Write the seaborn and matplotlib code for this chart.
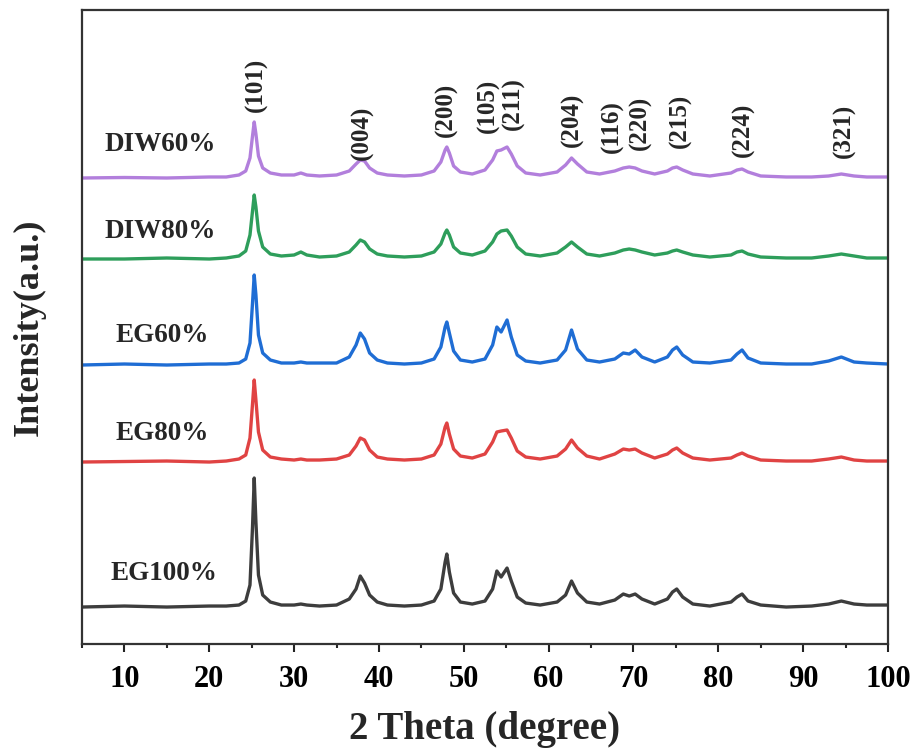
import pandas as pd
import matplotlib.pyplot as plt
import seaborn as sns
from matplotlib.ticker import MultipleLocator

# 2 theta sample points (degree)
theta = [5, 10, 15, 20, 22, 23.5, 24.3, 24.8, 25.1, 25.3, 25.5, 25.8, 26.3, 27.2, 28.5,
         30, 30.8, 31.5, 33, 35, 36.5, 37.3, 37.8, 38.3, 38.9, 39.8, 41, 43, 45, 46.5,
         47.3, 47.8, 48.0, 48.3, 48.8, 49.6, 51, 52.5, 53.4, 53.9, 54.4, 55.1, 55.6, 56.3,
         57.3, 59, 61, 62.0, 62.7, 63.4, 64.5, 66, 67.8, 68.8, 69.5, 70.2, 71, 72.5, 74,
         74.6, 75.1, 75.8, 77, 79, 81.5, 82.2, 82.8, 83.5, 85, 88, 91, 93, 94.5, 96, 97.5, 100]

# intensity above each pattern's own baseline (a.u.)
diw60 = [0, 0.5, 0, 1, 1, 3, 7, 20, 42, 56, 44, 22, 10, 5, 3,
         3, 5, 3, 2, 3, 7, 14, 18, 17, 10, 5, 3, 2, 3, 7,
         16, 28, 31, 25, 12, 6, 4, 8, 18, 27, 28, 31, 24, 12,
         5, 3, 6, 13, 20, 14, 6, 4, 7, 10, 11, 10, 7, 4, 7,
         10, 11, 8, 4, 2, 5, 8, 9, 6, 2, 1, 1, 2, 4, 2, 1, 1]
diw80 = [0, 0, 1, 0, 1, 3, 8, 24, 48, 64, 52, 28, 12, 5, 3,
         4, 7, 4, 2, 3, 7, 14, 19, 17, 10, 5, 3, 2, 3, 7,
         15, 26, 29, 24, 12, 6, 4, 8, 17, 25, 28, 29, 23, 12,
         5, 3, 6, 12, 17, 12, 5, 3, 6, 9, 10, 9, 7, 4, 6,
         8, 9, 7, 4, 2, 4, 7, 8, 5, 2, 1, 1, 3, 5, 3, 1, 1]
eg60 = [0, 1, 0, 1, 1, 2, 6, 22, 62, 90, 70, 30, 12, 5, 2,
        2, 3, 2, 2, 2, 8, 20, 32, 26, 12, 5, 2, 1, 2, 6,
        18, 38, 43, 32, 14, 5, 3, 6, 20, 38, 33, 45, 28, 10,
        4, 2, 5, 15, 35, 16, 5, 3, 6, 12, 11, 15, 8, 3, 8,
        15, 18, 10, 3, 2, 5, 11, 15, 7, 2, 1, 1, 4, 8, 3, 2, 1]
eg80 = [0, 0.5, 1, 0, 1, 3, 7, 24, 58, 82, 62, 30, 12, 5, 3,
        2, 3, 2, 2, 3, 7, 16, 24, 22, 12, 5, 3, 2, 3, 7,
        18, 35, 39, 28, 13, 6, 4, 8, 20, 30, 31, 32, 24, 11,
        5, 3, 6, 13, 22, 14, 6, 3, 8, 13, 12, 13, 9, 4, 8,
        12, 14, 9, 4, 2, 4, 7, 9, 6, 2, 1, 1, 3, 5, 2, 1, 1]
eg100 = [0, 1, 0, 1, 1, 2, 6, 22, 80, 129, 85, 32, 12, 5, 2,
         2, 3, 2, 1, 2, 8, 18, 31, 24, 12, 5, 2, 1, 2, 6,
         18, 45, 53, 35, 14, 5, 3, 6, 18, 36, 30, 39, 26, 10,
         4, 2, 5, 12, 26, 14, 5, 3, 7, 13, 11, 13, 8, 3, 8,
         15, 18, 10, 3, 1, 5, 10, 13, 6, 2, 0, 1, 3, 6, 3, 2, 2]

samples = ['DIW60%', 'DIW80%', 'EG60%', 'EG80%', 'EG100%']
offsets = [466, 385, 279, 182, 37]
colors = ['#b27fdc', '#2e9e5b', '#1f6dd4', '#e04343', '#3d3d3d']
name_pos = [(7.6, 499), (7.6, 412), (9.0, 309), (9.0, 211), (8.4, 71)]

planes = ['(101)', '(004)', '(200)', '(105)', '(211)', '(204)', '(116)', '(220)',
          '(215)', '(224)', '(321)']
plane_x = [25.5, 38.0, 48.0, 52.9, 55.8, 62.8, 67.5, 70.8, 75.5, 82.9, 94.9]
plane_y = [532, 484, 507, 511, 514, 497, 491, 494, 496, 487, 486]

rows = []
for name, off, vals in zip(samples, offsets, [diw60, diw80, eg60, eg80, eg100]):
    for t, v in zip(theta, vals):
        rows.append({'theta': t, 'intensity': off + v, 'sample': name})
df = pd.DataFrame(rows)

sns.set_style('ticks')
plt.rcParams['font.family'] = ['Liberation Serif', 'DejaVu Serif']
plt.rcParams['font.weight'] = 'bold'

fig = plt.figure(figsize=(9.15, 7.56), dpi=100)
ax = fig.add_axes([0.0896, 0.1481, 0.8809, 0.8387])

sns.lineplot(data=df, x='theta', y='intensity', hue='sample', palette=colors,
             hue_order=samples, estimator=None, sort=False, linewidth=2.4,
             legend=False, ax=ax)

for name, (px, py) in zip(samples, name_pos):
    ax.text(px, py, name, fontsize=19.5, fontweight='bold', ha='left', va='center')

for lab, px, py in zip(planes, plane_x, plane_y):
    ax.text(px, py, lab, fontsize=18, fontweight='bold', rotation=90,
            ha='center', va='bottom')

ax.set_xlim(5, 100)
ax.set_ylim(0, 634)
ax.xaxis.set_major_locator(MultipleLocator(10))
ax.xaxis.set_minor_locator(MultipleLocator(5))
ax.tick_params(axis='x', which='major', direction='out', length=6, width=1.5,
               labelsize=22, pad=9, colors='#222222')
ax.tick_params(axis='x', which='minor', direction='out', length=3, width=1.5)
ax.tick_params(axis='x', labelcolor='black')
ax.set_yticks([])
for lbl in ax.get_xticklabels():
    lbl.set_fontweight('bold')
for sp in ax.spines.values():
    sp.set_linewidth(1.6)
    sp.set_color('#333333')
    sp.set_visible(True)

ax.set_xlabel('2 Theta (degree)', fontsize=28, fontweight='bold', labelpad=12)
ax.set_ylabel('Intensity(a.u.)', fontsize=26, fontweight='bold', labelpad=26)

plt.savefig('out.png', dpi=100)
